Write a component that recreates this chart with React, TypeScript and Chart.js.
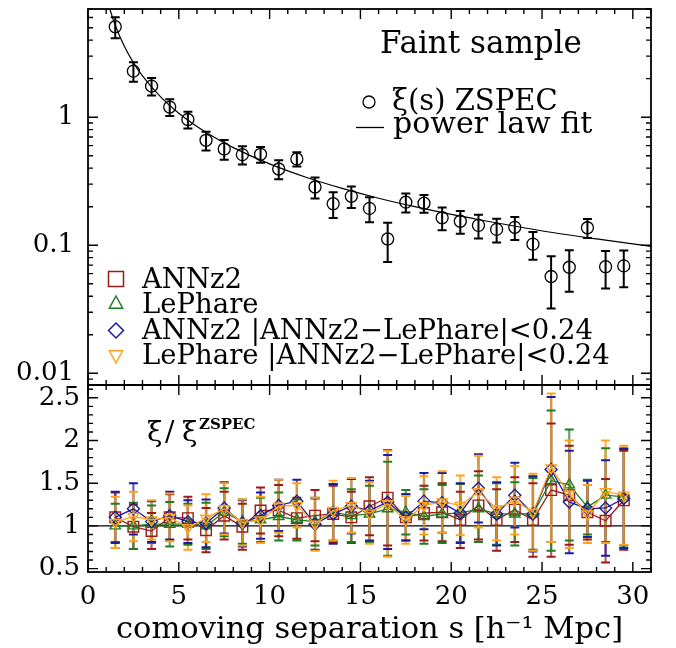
import React, { useEffect, useRef } from 'react';
import { Chart, registerables } from 'chart.js';

Chart.register(...registerables);

// ---------- data ----------
const sepS = [1.5, 2.5, 3.5, 4.5, 5.5, 6.5, 7.5, 8.5, 9.5, 10.5, 11.5, 12.5, 13.5, 14.5, 15.5, 16.5, 17.5, 18.5, 19.5, 20.5, 21.5, 22.5, 23.5, 24.5, 25.5, 26.5, 27.5, 28.5, 29.5];

const xiZspec = [5.09, 2.29, 1.75, 1.2, 0.96, 0.66, 0.565, 0.51, 0.513, 0.394, 0.472, 0.285, 0.211, 0.241, 0.194, 0.112, 0.217, 0.213, 0.164, 0.154, 0.143, 0.133, 0.138, 0.102, 0.057, 0.0673, 0.137, 0.068, 0.069];
const xiZspecErr = [0.95, 0.4, 0.27, 0.18, 0.145, 0.11, 0.1, 0.082, 0.072, 0.067, 0.06, 0.053, 0.048, 0.046, 0.043, 0.038, 0.037, 0.034, 0.033, 0.031, 0.03, 0.028, 0.028, 0.025, 0.025, 0.024, 0.023, 0.022, 0.022];

const fitS = [1.2, 1.5, 2, 2.5, 3, 4, 5, 6, 7, 8, 10, 12, 14, 16, 18, 20, 22, 24, 26, 28, 31];
const fitXi = [7.0, 5.22, 3.58, 2.67, 2.1, 1.44, 1.074, 0.846, 0.69, 0.579, 0.432, 0.34, 0.278, 0.233, 0.2, 0.174, 0.154, 0.137, 0.123, 0.112, 0.098];

const ratioAnnz = [1.1, 0.99, 0.94, 1.1, 1.09, 0.95, 1.12, 0.99, 1.18, 1.18, 1.09, 1.12, 1.14, 1.1, 1.23, 1.33, 1.1, 1.15, 1.16, 1.07, 1.24, 1.07, 1.19, 1.07, 1.42, 1.36, 1.16, 1.06, 1.3];
const ratioAnnzErr = [0.29, 0.26, 0.21, 0.27, 0.25, 0.26, 0.28, 0.27, 0.27, 0.3, 0.24, 0.3, 0.33, 0.3, 0.34, 0.56, 0.27, 0.32, 0.34, 0.33, 0.4, 0.36, 0.38, 0.43, 0.78, 0.58, 0.32, 0.49, 0.58];

const ratioLephare = [1.0, 1.0, 1.02, 1.02, 1.02, 1.0, 1.16, 1.05, 1.07, 1.11, 1.07, 1.05, 1.16, 1.12, 1.14, 1.2, 1.16, 1.11, 1.14, 1.15, 1.2, 1.14, 1.14, 1.14, 1.53, 1.48, 1.22, 1.36, 1.34];
const ratioLephareErr = [0.26, 0.27, 0.22, 0.26, 0.24, 0.27, 0.28, 0.26, 0.26, 0.28, 0.24, 0.28, 0.33, 0.31, 0.33, 0.55, 0.26, 0.32, 0.34, 0.34, 0.39, 0.36, 0.37, 0.42, 0.82, 0.65, 0.32, 0.55, 0.57];

const ratioAnnzCut = [1.1, 1.2, 1.05, 1.12, 1.05, 1.03, 1.21, 1.03, 1.12, 1.24, 1.29, 1.02, 1.14, 1.23, 1.18, 1.28, 1.1, 1.29, 1.27, 1.15, 1.44, 1.14, 1.36, 1.14, 1.66, 1.28, 1.2, 1.21, 1.32];
const ratioAnnzCutErr = [0.3, 0.3, 0.24, 0.28, 0.25, 0.28, 0.3, 0.27, 0.27, 0.3, 0.25, 0.3, 0.35, 0.32, 0.35, 0.55, 0.27, 0.33, 0.35, 0.35, 0.4, 0.37, 0.38, 0.44, 0.85, 0.6, 0.33, 0.56, 0.58];

const ratioLephareCut = [1.04, 1.11, 1.07, 1.1, 0.98, 1.09, 1.2, 1.04, 1.07, 1.23, 1.24, 1.02, 1.18, 1.24, 1.15, 1.26, 1.07, 1.24, 1.28, 1.24, 1.4, 1.2, 1.3, 1.16, 1.68, 1.37, 1.14, 1.4, 1.36];
const ratioLephareCutErr = [0.3, 0.29, 0.23, 0.28, 0.26, 0.28, 0.3, 0.27, 0.27, 0.31, 0.26, 0.31, 0.35, 0.32, 0.36, 0.62, 0.28, 0.34, 0.36, 0.35, 0.42, 0.37, 0.4, 0.45, 0.87, 0.63, 0.34, 0.6, 0.58];

const xTickValues = [0, 5, 10, 15, 20, 25, 30];
const topTickValues = [0.01, 0.1, 1];
const bottomTickValues = [0.5, 1, 1.5, 2, 2.5];

const legendLabels = ['ANNz2', 'LePhare', 'ANNz2 |ANNz2\u2212LePhare|<0.24', 'LePhare |ANNz2\u2212LePhare|<0.24'];

// ---------- styles ----------
const FONT = "'DejaVu Serif', serif";
const RED = '#9c1a1a';
const GREEN = '#1f7f1f';
const BLUE = '#1c1ca0';
const ORANGE = '#ffa31a';

function drawMarker(ctx: CanvasRenderingContext2D, kind: string, x: number, y: number, r: number, color: string) {
  ctx.strokeStyle = color;
  ctx.lineWidth = 1.5;
  ctx.beginPath();
  if (kind === 'square') {
    ctx.rect(x - r, y - r, 2 * r, 2 * r);
  } else if (kind === 'tri') {
    ctx.moveTo(x, y - r);
    ctx.lineTo(x + r * 0.95, y + r * 0.75);
    ctx.lineTo(x - r * 0.95, y + r * 0.75);
    ctx.closePath();
  } else if (kind === 'diamond') {
    ctx.moveTo(x, y - r);
    ctx.lineTo(x + r, y);
    ctx.lineTo(x, y + r);
    ctx.lineTo(x - r, y);
    ctx.closePath();
  } else {
    ctx.moveTo(x, y + r);
    ctx.lineTo(x + r * 0.95, y - r * 0.75);
    ctx.lineTo(x - r * 0.95, y - r * 0.75);
    ctx.closePath();
  }
  ctx.stroke();
}

const decorPlugin = {
  id: 'decor',
  beforeDatasetsDraw(chart: any) {
    const ctx: CanvasRenderingContext2D = chart.ctx;
    const xs = chart.scales.x;
    const yt = chart.scales.y;
    const yb = chart.scales.y2;
    ctx.save();
    // ratio = 1 line
    const y1 = yb.getPixelForValue(1);
    ctx.strokeStyle = '#000';
    ctx.lineWidth = 1.3;
    ctx.beginPath();
    ctx.moveTo(xs.left, y1);
    ctx.lineTo(xs.right, y1);
    ctx.stroke();

    // top error bars
    ctx.strokeStyle = '#000';
    ctx.lineWidth = 2;
    for (let i = 0; i < sepS.length; i++) {
      const px = xs.getPixelForValue(sepS[i]);
      const pt = yt.getPixelForValue(xiZspec[i] + xiZspecErr[i]);
      const pb = yt.getPixelForValue(xiZspec[i] - xiZspecErr[i]);
      ctx.beginPath();
      ctx.moveTo(px, pt); ctx.lineTo(px, pb);
      ctx.moveTo(px - 4.5, pt); ctx.lineTo(px + 4.5, pt);
      ctx.moveTo(px - 4.5, pb); ctx.lineTo(px + 4.5, pb);
      ctx.stroke();
    }

    // bottom error bars
    const series = [
      { v: ratioAnnz, e: ratioAnnzErr, c: RED, a: 0.7 },
      { v: ratioLephare, e: ratioLephareErr, c: GREEN, a: 0.7 },
      { v: ratioAnnzCut, e: ratioAnnzCutErr, c: BLUE, a: 0.7 },
      { v: ratioLephareCut, e: ratioLephareCutErr, c: ORANGE, a: 0.8 },
    ];
    ctx.lineWidth = 2.2;
    series.forEach((s) => {
      ctx.strokeStyle = s.c;
      ctx.globalAlpha = s.a;
      for (let i = 0; i < sepS.length; i++) {
        const px = xs.getPixelForValue(sepS[i]);
        const pt = yb.getPixelForValue(s.v[i] + s.e[i]);
        const pb = yb.getPixelForValue(s.v[i] - s.e[i]);
        ctx.beginPath();
        ctx.moveTo(px, pt); ctx.lineTo(px, pb);
        ctx.stroke();
      }
    });
    ctx.globalAlpha = 1;
    ctx.lineWidth = 2;
    series.forEach((s) => {
      ctx.strokeStyle = s.c;
      for (let i = 0; i < sepS.length; i++) {
        const px = xs.getPixelForValue(sepS[i]);
        const pt = yb.getPixelForValue(s.v[i] + s.e[i]);
        const pb = yb.getPixelForValue(s.v[i] - s.e[i]);
        ctx.beginPath();
        ctx.moveTo(px - 4.5, pt); ctx.lineTo(px + 4.5, pt);
        ctx.moveTo(px - 4.5, pb); ctx.lineTo(px + 4.5, pb);
        ctx.stroke();
      }
    });
    ctx.restore();
  },
  afterDatasetsDraw(chart: any) {
    const ctx: CanvasRenderingContext2D = chart.ctx;
    const xs = chart.scales.x;
    const yt = chart.scales.y;
    const yb = chart.scales.y2;
    const L = xs.left, R = xs.right;
    ctx.save();
    ctx.strokeStyle = '#000';
    // frames
    ctx.lineWidth = 1.8;
    ctx.strokeRect(L, yt.top, R - L, yt.bottom - yt.top);
    ctx.strokeRect(L, yb.top, R - L, yb.bottom - yb.top);

    // x ticks (inward) on both panels, top and bottom edges
    ctx.lineWidth = 1.4;
    const panels = [[yt.top, yt.bottom], [yb.top, yb.bottom]];
    for (let k = Math.ceil(xs.min); k <= xs.max; k++) {
      const px = xs.getPixelForValue(k);
      const len = k % 5 === 0 ? 10 : 5;
      panels.forEach(([t, b]) => {
        ctx.beginPath();
        ctx.moveTo(px, t); ctx.lineTo(px, t + len);
        ctx.moveTo(px, b); ctx.lineTo(px, b - len);
        ctx.stroke();
      });
    }
    // log y ticks (top panel)
    for (let e = -3; e <= 1; e++) {
      for (let m = 1; m <= 9; m++) {
        const v = m * Math.pow(10, e);
        if (v < yt.min || v > yt.max) continue;
        const py = yt.getPixelForValue(v);
        const len = m === 1 ? 10 : 5;
        ctx.beginPath();
        ctx.moveTo(L, py); ctx.lineTo(L + len, py);
        ctx.moveTo(R, py); ctx.lineTo(R - len, py);
        ctx.stroke();
      }
    }
    // linear y ticks (bottom panel)
    for (let k = 5; k <= 26; k++) {
      const v = k / 10;
      if (v < yb.min || v > yb.max) continue;
      const py = yb.getPixelForValue(v);
      const len = k % 5 === 0 ? 10 : 5;
      ctx.beginPath();
      ctx.moveTo(L, py); ctx.lineTo(L + len, py);
      ctx.moveTo(R, py); ctx.lineTo(R - len, py);
      ctx.stroke();
    }

    // texts
    ctx.fillStyle = '#000';
    ctx.textBaseline = 'alphabetic';
    ctx.textAlign = 'left';
    ctx.font = `31px ${FONT}`;
    ctx.fillText('Faint sample', 380, 53);
    ctx.font = `29px ${FONT}`;
    ctx.fillText('\u03BE(s) ZSPEC', 392, 110);
    ctx.font = `30px ${FONT}`;
    ctx.fillText('power law fit', 393, 133);
    ctx.lineWidth = 1.3;
    ctx.beginPath();
    ctx.arc(369, 102, 6, 0, Math.PI * 2);
    ctx.stroke();
    ctx.beginPath();
    ctx.moveTo(356, 127.5); ctx.lineTo(384, 127.5);
    ctx.stroke();

    // lower legend
    const kinds = ['square', 'tri', 'diamond', 'invtri'];
    const cols = [RED, GREEN, BLUE, ORANGE];
    const markY = [279, 303, 330.5, 356];
    const sizes = [7.5, 7, 7.5, 7];
    const baseY = [288, 313, 338.5, 364];
    ctx.font = `27.5px ${FONT}`;
    for (let i = 0; i < 4; i++) {
      drawMarker(ctx, kinds[i], 116, markY[i], sizes[i], cols[i]);
      ctx.fillStyle = '#000';
      ctx.fillText(legendLabels[i], 142, baseY[i]);
    }

    // ratio label
    ctx.font = `28px ${FONT}`;
    ctx.fillText('\u03BE', 147, 441);
    ctx.fillText('/', 165, 441);
    ctx.fillText('\u03BE', 182, 441);
    ctx.font = `bold 15px ${FONT}`;
    ctx.fillText('ZSPEC', 199, 429);
    ctx.restore();
  },
};

export default function App() {
  const ref = useRef<HTMLCanvasElement>(null);
  useEffect(() => {
    const zeroPad = (s: any) => {
      s.paddingTop = 0; s.paddingBottom = 0; s.paddingLeft = 0; s.paddingRight = 0;
    };
    const tickFont = { family: FONT, size: 26 };
    const ratioPts = (v: number[]) => sepS.map((s, i) => ({ x: s, y: v[i] }));
    const chart = new Chart(ref.current as HTMLCanvasElement, {
      type: 'line',
      data: {
        datasets: [
          {
            label: 'power law fit',
            data: fitS.map((s, i) => ({ x: s, y: fitXi[i] })),
            yAxisID: 'y',
            borderColor: '#000',
            borderWidth: 1.2,
            pointRadius: 0,
            cubicInterpolationMode: 'monotone',
            fill: false,
            order: 0,
          },
          {
            label: '\u03BE(s) ZSPEC',
            data: sepS.map((s, i) => ({ x: s, y: xiZspec[i] })),
            yAxisID: 'y',
            showLine: false,
            pointStyle: 'circle',
            pointRadius: 6,
            pointBorderWidth: 1.3,
            pointBorderColor: '#000',
            pointBackgroundColor: 'rgba(0,0,0,0)',
            order: 0,
          },
          {
            label: legendLabels[3],
            data: ratioPts(ratioLephareCut),
            yAxisID: 'y2',
            borderColor: ORANGE,
            borderWidth: 1.3,
            pointStyle: 'triangle',
            rotation: 180,
            pointRadius: 6,
            pointBorderWidth: 1.4,
            pointBorderColor: ORANGE,
            pointBackgroundColor: 'rgba(0,0,0,0)',
            order: 1,
          },
          {
            label: legendLabels[2],
            data: ratioPts(ratioAnnzCut),
            yAxisID: 'y2',
            borderColor: BLUE,
            borderWidth: 1.3,
            pointStyle: 'rectRot',
            pointRadius: 6,
            pointBorderWidth: 1.4,
            pointBorderColor: BLUE,
            pointBackgroundColor: 'rgba(0,0,0,0)',
            order: 2,
          },
          {
            label: legendLabels[1],
            data: ratioPts(ratioLephare),
            yAxisID: 'y2',
            borderColor: GREEN,
            borderWidth: 1.3,
            pointStyle: 'triangle',
            pointRadius: 6,
            pointBorderWidth: 1.4,
            pointBorderColor: GREEN,
            pointBackgroundColor: 'rgba(0,0,0,0)',
            order: 3,
          },
          {
            label: legendLabels[0],
            data: ratioPts(ratioAnnz),
            yAxisID: 'y2',
            borderColor: RED,
            borderWidth: 1.3,
            pointStyle: 'rect',
            pointRadius: 7.5,
            pointBorderWidth: 1.4,
            pointBorderColor: RED,
            pointBackgroundColor: 'rgba(0,0,0,0)',
            order: 4,
          },
        ],
      } as any,
      options: {
        animation: false,
        responsive: false,
        maintainAspectRatio: false,
        layout: { padding: { top: 9, right: 25, left: 0, bottom: 0 } },
        plugins: { legend: { display: false }, tooltip: { enabled: false } },
        scales: {
          x: {
            type: 'linear',
            min: 0,
            max: 31,
            afterBuildTicks: (s: any) => { s.ticks = xTickValues.map((v) => ({ value: v })); },
            afterFit: (s: any) => { s.height = 76; zeroPad(s); },
            grid: { display: false, drawTicks: false },
            border: { display: false },
            ticks: { font: tickFont, color: '#000', padding: 10, maxRotation: 0, autoSkip: false, callback: (v: any) => String(v) },
            title: {
              display: true,
              text: 'comoving separation s [h\u207B\u00B9 Mpc]',
              font: { family: FONT, size: 30.5 },
              color: '#000',
              padding: { top: 0, bottom: 0 },
            },
          },
          y2: {
            type: 'linear',
            position: 'left',
            stack: 'panels',
            stackWeight: 187,
            min: 0.46,
            max: 2.65,
            afterBuildTicks: (s: any) => { s.ticks = bottomTickValues.map((v) => ({ value: v })); },
            afterFit: (s: any) => { s.width = 88; zeroPad(s); },
            grid: { display: false, drawTicks: false },
            border: { display: false },
            ticks: { font: tickFont, color: '#000', padding: 8, autoSkip: false, callback: (v: any) => String(v) },
          },
          y: {
            type: 'logarithmic',
            position: 'left',
            stack: 'panels',
            stackWeight: 376,
            min: 0.0081,
            max: 7.0,
            afterBuildTicks: (s: any) => { s.ticks = topTickValues.map((v) => ({ value: v })); },
            afterFit: (s: any) => { s.width = 88; zeroPad(s); },
            grid: { display: false, drawTicks: false },
            border: { display: false },
            ticks: { font: tickFont, color: '#000', padding: 14, autoSkip: false, callback: (v: any) => String(v) },
          },
        },
      } as any,
      plugins: [decorPlugin],
    });
    return () => chart.destroy();
  }, []);
  return (
    <div style={{ position: 'absolute', left: 0, top: 0, width: 676, height: 648, background: '#fff' }}>
      <canvas ref={ref} width={676} height={648} style={{ display: 'block', width: 676, height: 648 }} />
    </div>
  );
}
